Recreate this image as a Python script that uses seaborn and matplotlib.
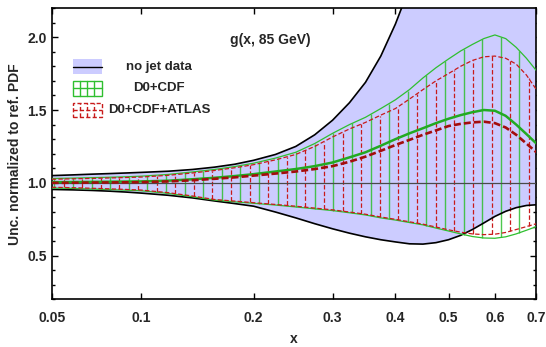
import matplotlib
matplotlib.use("Agg")
import matplotlib.pyplot as plt
import numpy as np
import seaborn as sns
from matplotlib.lines import Line2D
from matplotlib.patches import Rectangle
from matplotlib.ticker import MultipleLocator

# x grid
x = [0.05, 0.06, 0.07, 0.08, 0.09, 0.10, 0.12, 0.14, 0.16, 0.18, 0.20,
     0.225, 0.25, 0.275, 0.30, 0.325, 0.35, 0.375, 0.40, 0.425, 0.45,
     0.475, 0.50, 0.525, 0.55, 0.575, 0.60, 0.625, 0.65, 0.675, 0.70]

# no jet data band (upper edge leaves the frame above x~0.41)
nojet_up = [1.050, 1.055, 1.060, 1.064, 1.068, 1.072, 1.080, 1.092, 1.108, 1.128, 1.155,
            1.195, 1.250, 1.330, 1.430, 1.550, 1.690, 1.870, 2.090, 2.340, 2.600,
            2.900, 3.200, 3.550, 3.900, 4.250, 4.600, 4.950, 5.300, 5.650, 6.000]
nojet_dn = [0.955, 0.952, 0.948, 0.943, 0.937, 0.930, 0.915, 0.897, 0.876, 0.858, 0.840,
            0.800, 0.760, 0.720, 0.685, 0.655, 0.630, 0.610, 0.595, 0.582, 0.580,
            0.590, 0.610, 0.640, 0.680, 0.725, 0.770, 0.805, 0.830, 0.845, 0.850]

# D0+CDF
cdf_up = [1.030, 1.033, 1.036, 1.039, 1.042, 1.046, 1.058, 1.075, 1.092, 1.112, 1.135,
          1.170, 1.210, 1.270, 1.340, 1.400, 1.450, 1.510, 1.570, 1.640, 1.720,
          1.790, 1.850, 1.905, 1.950, 1.990, 2.015, 1.990, 1.930, 1.855, 1.770]
cdf_mid = [1.005, 1.006, 1.007, 1.008, 1.009, 1.010, 1.015, 1.025, 1.035, 1.047, 1.060,
           1.078, 1.095, 1.115, 1.140, 1.175, 1.210, 1.255, 1.300, 1.340, 1.375,
           1.410, 1.440, 1.465, 1.485, 1.500, 1.495, 1.460, 1.400, 1.335, 1.270]
cdf_dn = [0.965, 0.962, 0.958, 0.954, 0.950, 0.946, 0.928, 0.905, 0.882, 0.870, 0.860,
          0.848, 0.835, 0.822, 0.810, 0.795, 0.780, 0.760, 0.745, 0.728, 0.712,
          0.690, 0.670, 0.650, 0.632, 0.622, 0.620, 0.630, 0.650, 0.675, 0.700]

# D0+CDF+ATLAS
atlas_up = [1.025, 1.028, 1.031, 1.034, 1.037, 1.040, 1.052, 1.068, 1.085, 1.104, 1.125,
            1.158, 1.195, 1.250, 1.315, 1.370, 1.415, 1.465, 1.510, 1.575, 1.640,
            1.700, 1.750, 1.800, 1.840, 1.865, 1.870, 1.855, 1.815, 1.740, 1.640]
atlas_mid = [1.000, 1.001, 1.002, 1.003, 1.004, 1.005, 1.010, 1.018, 1.028, 1.038, 1.050,
             1.064, 1.078, 1.095, 1.115, 1.145, 1.180, 1.220, 1.260, 1.295, 1.330,
             1.360, 1.390, 1.405, 1.415, 1.420, 1.410, 1.380, 1.330, 1.270, 1.210]
atlas_dn = [0.970, 0.967, 0.963, 0.959, 0.955, 0.951, 0.933, 0.910, 0.886, 0.875, 0.864,
            0.852, 0.840, 0.827, 0.815, 0.800, 0.785, 0.766, 0.750, 0.733, 0.717,
            0.697, 0.678, 0.662, 0.650, 0.645, 0.648, 0.660, 0.680, 0.700, 0.720]

xticks = [0.05, 0.1, 0.2, 0.3, 0.4, 0.5, 0.6, 0.7]
xtick_labels = ["0.05", "0.1", "0.2", "0.3", "0.4", "0.5", "0.6", "0.7"]
yticks = [0.5, 1.0, 1.5, 2.0]
legend_labels = ["no jet data", "D0+CDF", "D0+CDF+ATLAS"]

BLUE = "#ccccff"
GREEN = "#2fbf2f"
RED = "#c81a1a"
DARKRED = "#a30d0d"

# hatch spacing, in cube-root(x) units
HATCH_U0 = 0.3712
HATCH_DU = 0.01994

sns.set_theme(style="ticks")
plt.rcParams["font.family"] = ["Liberation Sans", "DejaVu Sans"]
plt.rcParams["font.weight"] = "bold"
plt.rcParams["lines.scale_dashes"] = False

fig = plt.figure(figsize=(5.46, 3.47), dpi=100)
ax = fig.add_axes([0.0947, 0.1369, 0.8877, 0.8401])
ax.set_xscale("function", functions=(np.cbrt, lambda v: np.power(v, 3)))

# blue band
ax.fill_between(x, nojet_dn, nojet_up, color=BLUE, lw=0, zorder=1)

# hatching of the two jet bands
u_max = np.cbrt(x[-1])
u_green = HATCH_U0 + HATCH_DU * np.arange(40)
u_green = u_green[u_green < u_max]
u_red = u_green + HATCH_DU / 2
u_red = u_red[u_red < u_max]
xg = u_green ** 3
xr = u_red ** 3
ax.vlines(xg, np.interp(xg, x, cdf_dn), np.interp(xg, x, cdf_up),
          colors=GREEN, lw=1.0, alpha=0.85, zorder=2)
ax.vlines(xr, np.interp(xr, x, atlas_dn), np.interp(xr, x, atlas_up),
          colors=RED, lw=0.9, linestyles=[(0, (3.2, 1.6))], zorder=3)

ax.axhline(1.0, color="#4a4a4a", lw=0.9, zorder=4)

# band edges and central curves
sns.lineplot(x=x, y=nojet_up, ax=ax, color="black", lw=1.2, zorder=5)
sns.lineplot(x=x, y=nojet_dn, ax=ax, color="black", lw=1.2, zorder=5)
sns.lineplot(x=x, y=cdf_up, ax=ax, color=GREEN, lw=0.9, zorder=6)
sns.lineplot(x=x, y=cdf_dn, ax=ax, color=GREEN, lw=0.9, zorder=6)
sns.lineplot(x=x, y=cdf_mid, ax=ax, color="#22aa22", lw=1.8, zorder=6)
sns.lineplot(x=x, y=atlas_up, ax=ax, color=RED, lw=0.9, linestyle=(0, (3.2, 1.6)), zorder=7)
sns.lineplot(x=x, y=atlas_dn, ax=ax, color=RED, lw=0.9, linestyle=(0, (3.2, 1.6)), zorder=7)
sns.lineplot(x=x, y=atlas_mid, ax=ax, color=DARKRED, lw=1.9, linestyle=(0, (5, 2.2)), zorder=7)

ax.set_xlim(0.05, 0.7)
ax.set_ylim(0.2, 2.2)
ax.set_xticks(xticks)
ax.set_xticklabels(xtick_labels)
ax.set_yticks(yticks)
ax.set_yticklabels([f"{v:.1f}" for v in yticks])
ax.yaxis.set_minor_locator(MultipleLocator(0.1))
ax.xaxis.set_minor_locator(matplotlib.ticker.NullLocator())
ax.tick_params(which="both", direction="in", top=True, right=True, color="black", width=1)
ax.tick_params(which="major", length=4)
ax.tick_params(which="minor", length=2.5)
ax.tick_params(axis="x", labelsize=10, pad=8)
ax.tick_params(axis="y", labelsize=10, pad=3.5)
for sp in ax.spines.values():
    sp.set_color("black")
    sp.set_linewidth(1.2)

ax.set_xlabel("x", fontsize=10, fontweight="bold", labelpad=5)
ax.set_ylabel("Unc. normalized to ref. PDF", fontsize=10, fontweight="bold", labelpad=4)
ax.text(0.452, 0.89, "g(x, 85 GeV)", transform=ax.transAxes, ha="center", va="center",
        fontsize=10, fontweight="bold")

# hand-made legend in the upper left corner
sw_x0, sw_w, sw_h = 0.0433, 0.0598, 0.0505
rows_y = [0.7986, 0.7245, 0.650]
tr = ax.transAxes
# no jet data
ax.add_patch(Rectangle((sw_x0, rows_y[0] - sw_h / 2), sw_w, sw_h, transform=tr,
                       facecolor=BLUE, edgecolor="none", zorder=8))
ax.add_line(Line2D([sw_x0, sw_x0 + sw_w], [rows_y[0]] * 2, transform=tr, color="black", lw=1.0, zorder=9))
# D0+CDF grid box
y0, y1 = rows_y[1] - sw_h / 2, rows_y[1] + sw_h / 2
ax.add_patch(Rectangle((sw_x0, y0), sw_w, sw_h, transform=tr, facecolor="none",
                       edgecolor=GREEN, lw=1.0, zorder=9))
for k in range(1, 4):
    xx = sw_x0 + sw_w * k / 4
    ax.add_line(Line2D([xx, xx], [y0, y1], transform=tr, color=GREEN, lw=1.0, zorder=9))
ax.add_line(Line2D([sw_x0, sw_x0 + sw_w], [rows_y[1]] * 2, transform=tr, color=GREEN, lw=1.0, zorder=9))
# D0+CDF+ATLAS dashed box
y0, y1 = rows_y[2] - sw_h / 2, rows_y[2] + sw_h / 2
ax.add_patch(Rectangle((sw_x0, y0), sw_w, sw_h, transform=tr, facecolor="none",
                       edgecolor=RED, lw=1.0, linestyle=(0, (3, 1.6)), zorder=9))
for k in range(1, 4):
    xx = sw_x0 + sw_w * k / 4
    ax.add_line(Line2D([xx, xx], [y0, y1], transform=tr, color=RED, lw=1.0,
                       linestyle=(0, (3, 1.6)), zorder=9))
ax.add_line(Line2D([sw_x0, sw_x0 + sw_w], [rows_y[2]] * 2, transform=tr, color=RED, lw=1.0,
                   linestyle=(0, (3, 1.6)), zorder=9))
for lab, yy in zip(legend_labels, rows_y):
    ax.text(0.222, yy, lab, transform=tr, ha="center", va="center", fontsize=9.5,
            fontweight="bold", zorder=9)

fig.savefig("out.png", dpi=100)
